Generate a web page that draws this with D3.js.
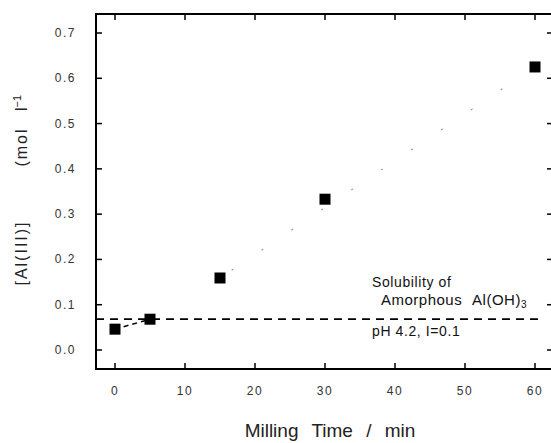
<!DOCTYPE html>
<html><head><meta charset="utf-8">
<script src="https://cdn.jsdelivr.net/npm/d3@7"></script>
<style>body{margin:0;background:#fff}svg{display:block}</style>
</head><body><svg id="c" width="551" height="443"></svg>
<script>
const times = [0, 5, 15, 30, 60];
const alConc = [0.046, 0.068, 0.159, 0.333, 0.625];
const fitTimes = [15, 60];
const fitValues = [0.159, 0.625];
const solubility = 0.068;
const xTicks = [0, 10, 20, 30, 40, 50, 60];
const yTicks = [0.0, 0.1, 0.2, 0.3, 0.4, 0.5, 0.6, 0.7];

const svg = d3.select("#c");
const L = 96, R = 553, T = 14, B = 369;
const x = d3.scaleLinear().domain([0, 60]).range([115, 535]);
const y = d3.scaleLinear().domain([0, 0.7]).range([350, 33]);
const af = "Liberation Sans, Arial, sans-serif";

// frame
svg.append("rect").attr("x", L).attr("y", T).attr("width", R - L).attr("height", B - T)
  .attr("fill", "none").attr("stroke", "#000").attr("stroke-width", 2);

// ticks
const g = svg.append("g").attr("stroke", "#000").attr("stroke-width", 1.5);
xTicks.forEach(t => {
  g.append("line").attr("x1", x(t)).attr("x2", x(t)).attr("y1", B).attr("y2", B - 6);
  g.append("line").attr("x1", x(t)).attr("x2", x(t)).attr("y1", T).attr("y2", T + 6);
});
yTicks.forEach(t => {
  g.append("line").attr("x1", L).attr("x2", L + 6).attr("y1", y(t)).attr("y2", y(t));
  g.append("line").attr("x1", R).attr("x2", R - 6).attr("y1", y(t)).attr("y2", y(t));
});

// tick labels
svg.append("g").selectAll("text").data(xTicks).join("text")
  .attr("x", d => x(d)).attr("y", 395).attr("text-anchor", "middle")
  .attr("font-family", af).attr("font-size", 12)
  .attr("letter-spacing", 1.5).attr("fill", "#333").text(d => d);
svg.append("g").selectAll("text").data(yTicks).join("text")
  .attr("x", 76).attr("y", d => y(d) + 4).attr("text-anchor", "end")
  .attr("font-family", af).attr("font-size", 12)
  .attr("letter-spacing", 1.5).attr("fill", "#333").text(d => d.toFixed(1));

// axis titles
svg.append("text").attr("x", 330).attr("y", 437).attr("text-anchor", "middle")
  .attr("font-family", af).attr("font-size", 19)
  .attr("word-spacing", 8).attr("fill", "#222").text("Milling Time / min");

const yt = [["[Al(III)]", 253], ["(mol", 147]];
yt.forEach(([s, cy]) => {
  svg.append("text").attr("transform", `translate(27,${cy}) rotate(-90)`)
    .attr("text-anchor", "middle").attr("font-family", af)
    .attr("font-size", 16).attr("letter-spacing", 2).attr("fill", "#222").text(s);
});
const yl = svg.append("text").attr("transform", "translate(27,103) rotate(-90)")
  .attr("text-anchor", "middle").attr("font-family", af)
  .attr("font-size", 16).attr("fill", "#222");
yl.append("tspan").text("l");
yl.append("tspan").attr("dy", -6).attr("font-size", 11).text("−1");

// solubility dashed line
svg.append("line").attr("x1", L).attr("x2", 540).attr("y1", y(solubility)).attr("y2", y(solubility))
  .attr("stroke", "#000").attr("stroke-width", 1.8).attr("stroke-dasharray", "8,6");

// faint fit line
svg.append("path").datum(fitTimes.map((t, i) => [t, fitValues[i]]))
  .attr("d", d3.line().x(d => x(d[0])).y(d => y(d[1])))
  .attr("fill", "none").attr("stroke", "#999").attr("stroke-width", 1.2)
  .attr("stroke-dasharray", "2,34").attr("stroke-dashoffset", -14);

// dashed connector 0 -> 5
svg.append("path").datum([[times[0], alConc[0]], [times[1], alConc[1]]])
  .attr("d", d3.line().x(d => x(d[0])).y(d => y(d[1])))
  .attr("fill", "none").attr("stroke", "#000").attr("stroke-width", 1.5).attr("stroke-dasharray", "5,4");

// markers
const s = 11;
svg.append("g").selectAll("rect").data(times.map((t, i) => [t, alConc[i]])).join("rect")
  .attr("x", d => x(d[0]) - s / 2).attr("y", d => y(d[1]) - s / 2)
  .attr("width", s).attr("height", s).attr("fill", "#000");

// annotation
svg.append("text").attr("x", 372).attr("y", 287).attr("font-family", af).attr("font-size", 14)
  .attr("letter-spacing", 0.6).attr("fill", "#111").text("Solubility of");
const am = svg.append("text").attr("x", 381).attr("y", 305).attr("font-family", af).attr("font-size", 15)
  .attr("letter-spacing", 0.5).attr("word-spacing", 6).attr("fill", "#111");
am.append("tspan").text("Amorphous Al(OH)");
am.append("tspan").attr("dy", 3).attr("font-size", 10).text("3");
svg.append("text").attr("x", 372).attr("y", 336).attr("font-family", af).attr("font-size", 14)
  .attr("letter-spacing", 0.6).attr("fill", "#111").text("pH 4.2, I=0.1");
</script></body></html>
